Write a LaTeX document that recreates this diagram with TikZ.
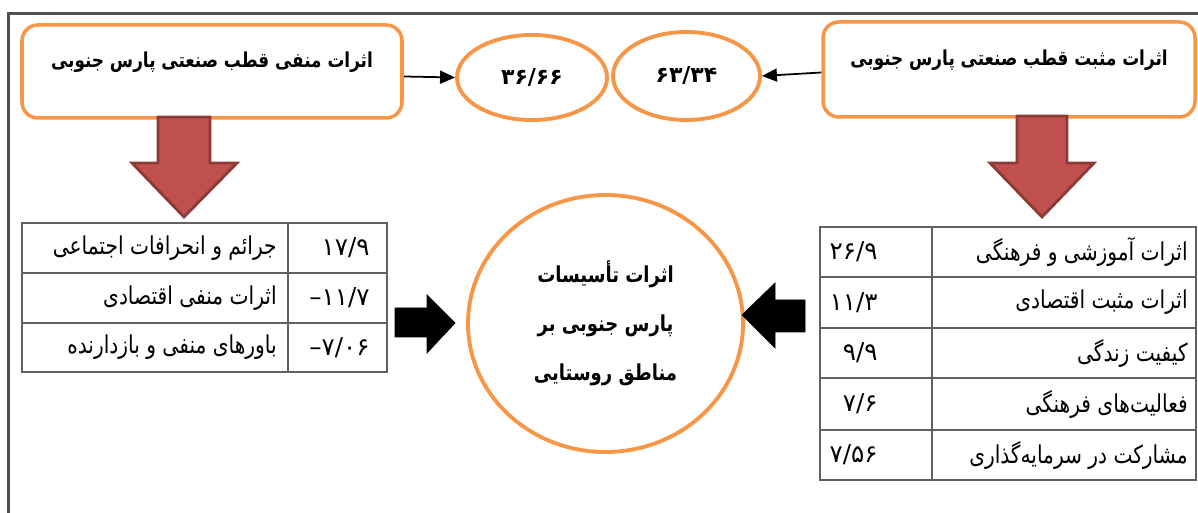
\documentclass[tikz,border=0pt]{standalone}
\usepackage{fontspec}
\usetikzlibrary{arrows.meta,shapes.geometric}
\newfontfamily\farsi[Script=Arabic]{DejaVu Sans}
\newfontfamily\farsinarrow[Script=Arabic,FakeStretch=0.82]{DejaVu Sans}
\TeXXeTstate=1
\newcommand{\fa}[1]{{\farsinarrow\beginR #1\endR}}
\definecolor{boxorange}{HTML}{F79646}
\definecolor{arrowred}{HTML}{C0504D}
\definecolor{arrowdark}{HTML}{8C3A38}
\definecolor{framegray}{HTML}{505050}
\definecolor{gridgray}{HTML}{606060}
\begin{document}
\begin{tikzpicture}[
    font=\farsi,
    topbox/.style={draw=boxorange, line width=2pt, rounded corners=9pt, fill=white,
      text height=0.3cm, text depth=0.45cm, font=\bfseries\fontsize{11.7}{14}\selectfont},
    oval/.style={draw=boxorange, line width=2.2pt, ellipse, inner sep=0pt},
    redarrow/.style={fill=arrowred, draw=arrowdark, line width=1.6pt, line join=miter},
    blackarrow/.style={fill=black},
    cell/.style={anchor=east, inner sep=0pt, font=\fontsize{14}{16}\selectfont},
    value/.style={anchor=east, inner sep=0pt, font=\farsi\fontsize{14}{16}\selectfont},
    grid/.style={draw=gridgray, line width=0.8pt}
  ]
    \useasboundingbox (0,0) rectangle (23.96,10.26);
    % frame
    \draw[framegray, line width=1.2pt] (0.17,0) -- (0.17,9.99) -- (23.96,9.99);

    % top boxes
    \node[topbox, minimum width=7.6cm, minimum height=1.86cm] (neg) at (4.24,8.83)
      {\fa{اثرات منفی قطب صنعتی پارس جنوبی}};
    \node[topbox, minimum width=7.44cm, minimum height=1.9cm] (pos) at (20.18,8.87)
      {\fa{اثرات مثبت قطب صنعتی پارس جنوبی}};

    % shares
    \node[oval, minimum width=3.0cm, minimum height=1.7cm, font=\farsi\bfseries\fontsize{12.5}{15}\selectfont]
      (negval) at (10.64,8.71) {۳۶/۶۶};
    \node[oval, minimum width=2.94cm, minimum height=1.76cm, font=\farsi\bfseries\fontsize{12.5}{15}\selectfont]
      (posval) at (13.73,8.74) {۶۳/۳۴};
    \draw[-{Triangle[length=0.3cm,width=0.26cm]}, line width=1pt] ([yshift=-0.1cm]neg.east) -- (negval.west);
    \draw[-{Triangle[length=0.3cm,width=0.26cm]}, line width=1pt] ([yshift=-0.06cm]pos.west) -- (posval.east);

    % red arrows down
    \draw[redarrow] (3.16,7.92) -- (3.16,7.0) -- (2.64,7.0) -- (3.68,5.92)
      -- (4.74,7.0) -- (4.2,7.0) -- (4.2,7.92) -- cycle;
    \draw[redarrow] (20.34,7.94) -- (20.34,7.0) -- (19.8,7.0) -- (20.84,5.92)
      -- (21.88,7.0) -- (21.34,7.0) -- (21.34,7.94) -- cycle;

    % centre
    \node[oval, minimum width=5.5cm, minimum height=5.14cm, align=center,
      font=\bfseries\fontsize{12.5}{28}\selectfont] (main) at (12.11,3.79)
      {\fa{اثرات تأسیسات}\\ \fa{پارس جنوبی بر}\\ \fa{مناطق روستایی}};
    \draw[blackarrow] (7.9,3.52) -- (8.54,3.52) -- (8.54,3.2) -- (9.1,3.8)
      -- (8.54,4.36) -- (8.54,4.1) -- (7.9,4.1) -- cycle;
    \draw[blackarrow] (16.1,3.62) -- (15.5,3.62) -- (15.5,3.3) -- (14.84,3.96)
      -- (15.5,4.6) -- (15.5,4.26) -- (16.1,4.26) -- cycle;

    % negative table
    \draw[grid] (0.44,2.82) rectangle (7.74,5.8);
    \draw[grid] (5.76,2.82) -- (5.76,5.8);
    \draw[grid] (0.44,4.8) -- (7.74,4.8);
    \draw[grid] (0.44,3.8) -- (7.74,3.8);
    \node[cell] (n1) at (5.54,5.3) {\fa{جرائم و انحرافات اجتماعی}};
    \node[value] (n1v) at (7.4,5.3) {۱۷/۹};
    \node[cell] (n2) at (5.54,4.3) {\fa{اثرات منفی اقتصادی}};
    \node[value] (n2v) at (7.4,4.3) {\mbox{–}\mbox{۱۱/۷}};
    \node[cell] (n3) at (5.54,3.31) {\fa{باورهای منفی و بازدارنده}};
    \node[value] (n3v) at (7.4,3.31) {\mbox{–}\mbox{۷/۰۶}};

    % positive table
    \draw[grid] (16.4,0.66) rectangle (23.92,5.72);
    \draw[grid] (18.64,0.66) -- (18.64,5.72);
    \draw[grid] (16.4,4.72) -- (23.92,4.72);
    \draw[grid] (16.4,3.7) -- (23.92,3.7);
    \draw[grid] (16.4,2.7) -- (23.92,2.7);
    \draw[grid] (16.4,1.66) -- (23.92,1.66);
    \node[cell] (p1) at (23.76,5.22) {\fa{اثرات آموزشی و فرهنگی}};
    \node[value] (p1v) at (17.56,5.22) {۲۶/۹};
    \node[cell] (p2) at (23.76,4.21) {\fa{اثرات مثبت اقتصادی}};
    \node[value] (p2v) at (17.56,4.21) {۱۱/۳};
    \node[cell] (p3) at (23.76,3.2) {\fa{کیفیت زندگی}};
    \node[value] (p3v) at (17.56,3.2) {۹/۹};
    \node[cell] (p4) at (23.76,2.18) {\fa{فعالیت^^^^200cهای فرهنگی}};
    \node[value] (p4v) at (17.56,2.18) {۷/۶};
    \node[cell] (p5) at (23.76,1.16) {\fa{مشارکت در سرمایه^^^^200cگذاری}};
    \node[value] (p5v) at (17.56,1.16) {۷/۵۶};
  \end{tikzpicture}
\end{document}
